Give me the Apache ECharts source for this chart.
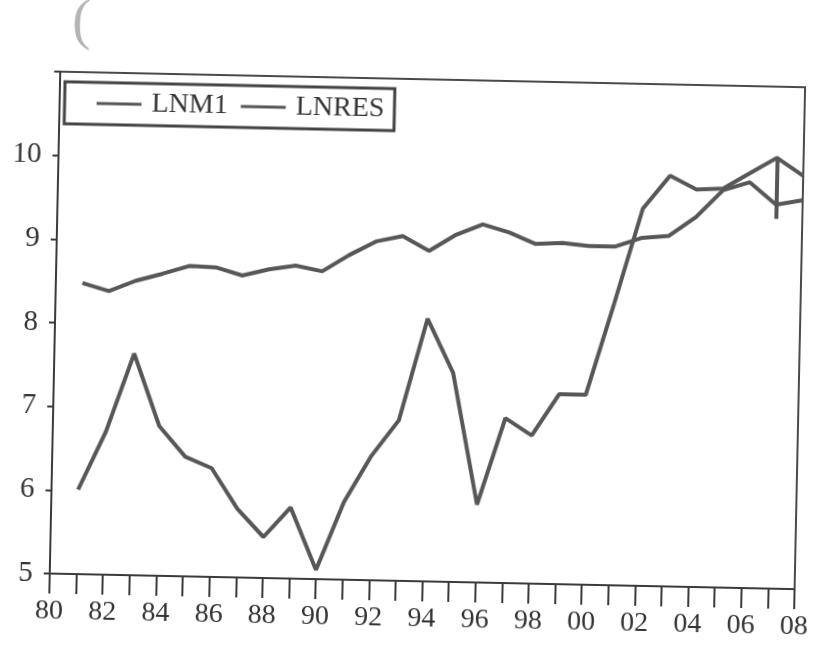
<!DOCTYPE html>
<html>
<head>
<meta charset="utf-8">
<script src="https://cdn.jsdelivr.net/npm/echarts@6/dist/echarts.min.js"></script>
<style>
  html, body { margin: 0; padding: 0; background: #fff; overflow: hidden; }
  #chart { width: 817px; height: 652px; transform: rotate(1.2deg); transform-origin: 50% 50%; }
</style>
</head>
<body>
<div id="chart"></div>
<script>
// Annual observations, 1981-2008
const years = [1981, 1982, 1983, 1984, 1985, 1986, 1987, 1988, 1989, 1990,
               1991, 1992, 1993, 1994, 1995, 1996, 1997, 1998, 1999, 2000,
               2001, 2002, 2003, 2004, 2005, 2006, 2007, 2008];

// log of M1
const lnm1 = [8.48, 8.39, 8.52, 8.61, 8.71, 8.70, 8.61, 8.69, 8.74, 8.68,
              8.88, 9.05, 9.12, 8.95, 9.15, 9.28, 9.19, 9.06, 9.08, 9.05,
              9.05, 9.16, 9.19, 9.42, 9.75, 9.85, 9.59, 9.65];

// log of reserves
const lnres = [6.01, 6.71, 7.65, 6.79, 6.43, 6.30, 5.82, 5.49, 5.85, 5.11,
               5.93, 6.49, 6.92, 8.14, 7.50, 5.93, 6.97, 6.77, 7.27, 7.27,
               8.37, 9.51, 9.91, 9.75, 9.77, 9.96, 10.15, 9.94];

// vertical marker drawn at 2007
const markYear = 2007;
const markRange = [9.42, 10.15];

// axis settings
const xRange = [1980, 2008];
const yRange = [5, 11];

const serif = '"Liberation Serif", "DejaVu Serif", serif';
const lineColor = '#575757';
const inkColor = '#3a3a3a';

const pairs = (vals) => years.map((y, i) => [y, vals[i]]);

const chart = echarts.init(document.getElementById('chart'), null, { renderer: 'canvas' });

chart.setOption({
  animation: false,
  backgroundColor: '#fff',
  grid: {
    left: 55, right: 7, top: 79, bottom: 71,
    show: true, borderColor: '#4a4a4a', borderWidth: 2,
    backgroundColor: 'transparent'
  },
  legend: {
    left: 60, top: 89,
    orient: 'horizontal',
    icon: 'rect',
    itemWidth: 45, itemHeight: 3,
    itemGap: 13,
    padding: [7, 10, 7, 32],
    borderColor: '#444', borderWidth: 3,
    textStyle: { fontFamily: serif, fontSize: 28, color: '#333', padding: [0, 0, 0, 5] },
    data: ['LNM1', 'LNRES']
  },
  xAxis: {
    type: 'value',
    min: xRange[0], max: xRange[1], interval: 1,
    axisLine: { show: true, lineStyle: { color: inkColor, width: 2 } },
    axisTick: { show: true, inside: false, length: 20, lineStyle: { color: inkColor, width: 2 } },
    axisLabel: {
      show: true, margin: 24,
      fontFamily: serif, fontSize: 28, color: '#333',
      showMinLabel: true, showMaxLabel: true,
      formatter: (v) => (v % 2 === 0 ? String(v).slice(2) : '')
    },
    splitLine: { show: false }
  },
  yAxis: {
    type: 'value',
    min: yRange[0], max: yRange[1], interval: 1,
    axisLine: { show: true, lineStyle: { color: inkColor, width: 2 } },
    axisTick: { show: true, inside: false, length: 6, lineStyle: { color: inkColor, width: 2 } },
    axisLabel: {
      show: true, margin: 17,
      fontFamily: serif, fontSize: 29, color: '#333',
      formatter: (v) => (v === yRange[1] ? '' : String(v))
    },
    splitLine: { show: false }
  },
  graphic: [{
    type: 'text', left: 66, top: 2,
    style: { text: '(', font: '56px ' + serif, fill: '#b4b4b4' }
  }],
  series: [
    {
      name: 'LNM1', type: 'line', data: pairs(lnm1),
      symbol: 'none', lineStyle: { color: lineColor, width: 4 },
      itemStyle: { color: lineColor }
    },
    {
      name: 'LNRES', type: 'line', data: pairs(lnres),
      symbol: 'none', lineStyle: { color: lineColor, width: 4 },
      itemStyle: { color: lineColor },
      markLine: {
        silent: true, symbol: ['none', 'none'],
        label: { show: false },
        lineStyle: { color: lineColor, width: 4, type: 'solid' },
        data: [[{ coord: [markYear, markRange[0]] }, { coord: [markYear, markRange[1]] }]]
      }
    }
  ]
});
</script>
</body>
</html>
